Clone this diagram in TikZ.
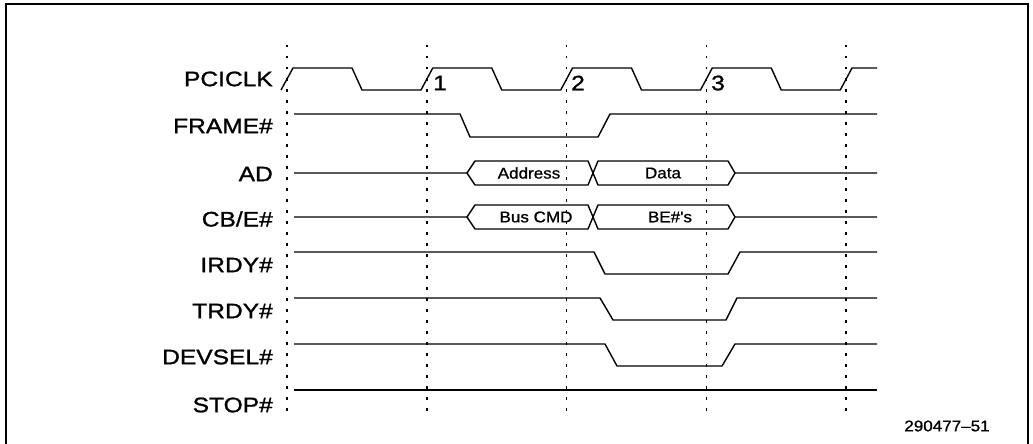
\documentclass[tikz,border=0pt]{standalone}
\usepackage{fontspec}
\setmainfont{Liberation Sans}
\newfontfamily\sigfont[FakeStretch=1.17, FakeBold=1.2]{Liberation Sans}
\newfontfamily\busfont[FakeStretch=1.1, FakeBold=1]{Liberation Sans}
\usetikzlibrary{positioning}

\begin{document}
\begin{tikzpicture}[x=1pt, y=-1pt,
        siglabel/.style={anchor=east, inner sep=0pt, font=\sigfont\fontsize{21}{24}\selectfont},
        clknum/.style={inner sep=0pt, font=\sigfont\fontsize{21}{24}\selectfont},
        buslabel/.style={inner sep=0pt, font=\busfont\fontsize{15.5}{18}\selectfont},
        wave/.style={line width=1.4pt, line join=round},
        tick/.style={line width=1.5pt, dash pattern=on 2.5pt off 8.5pt},
        frameline/.style={line width=1.6pt}
    ]
        \useasboundingbox (0,0) rectangle (1033,444);
        \draw[frameline] (6,444) -- (6,4) -- (1028,4) -- (1028,444);

        % clock edges
        \foreach \c in {0,...,4}
            \draw[tick] ({287+139.75*\c},45) -- ({287+139.75*\c},412);

        % signal names
        \foreach \y/\t/\n in {79/PCICLK/clk, 126/FRAME\#/frame, 174/AD/ad,
                              219/{CB/E\#}/cbe, 265/IRDY\#/irdy, 311/TRDY\#/trdy,
                              357/DEVSEL\#/devsel, 405/STOP\#/stop}
            \node[siglabel] (\n) at (273,\y) {\t};

        \node[clknum] (clk1) at (440,83) {1};
        \node[clknum] (clk2) at (578,83) {2};
        \node[clknum] (clk3) at (718,83) {3};

        % PCICLK
        \draw[wave] (281,90)
            foreach \c in {0,1,2,3} {
                -- ({287+139.75*\c+6},68) -- ({287+139.75*\c+65},68)
                -- ({287+139.75*\c+75},90) -- ({287+139.75*\c+134},90)
            } -- (852,68) -- (877,68);

        % FRAME#
        \draw[wave] (294,114) -- (460,114) -- (470,137) -- (598,137)
            -- (610,114) -- (877,114);

        % AD and CB/E#
        \foreach \y/\a/\b/\ax/\bx/\n in {173/Address/Data/529/663/ad,
                                         217/Bus CMD/BE\#'s/536/670/cbe} {
            \draw[wave] (294,\y) -- (467,\y) -- (475,\y-12) -- (588,\y-12)
                -- (598,\y+12) -- (728,\y+12) -- (735,\y) -- (877,\y);
            \draw[wave] (467,\y) -- (475,\y+12) -- (588,\y+12)
                -- (598,\y-12) -- (728,\y-12) -- (735,\y);
            \node[buslabel] (\n a) at (\ax,\y) {\a};
            \node[buslabel] (\n d) at (\bx,\y) {\b};
        }

        % IRDY#, TRDY#, DEVSEL#
        \foreach \y/\fa/\fb/\ra/\rb in {252/594/605/728/740,
                                         298/600/613/726/737,
                                         344/605/617/722/735}
            \draw[wave] (294,\y) -- (\fa,\y) -- (\fb,\y+22) -- (\ra,\y+22)
                -- (\rb,\y) -- (877,\y);

        % STOP#
        \draw[wave] (294,390) -- (877,390);

        \node[buslabel] (figno) at (947,426) {290477\textendash 51};
    \end{tikzpicture}
\end{document}
